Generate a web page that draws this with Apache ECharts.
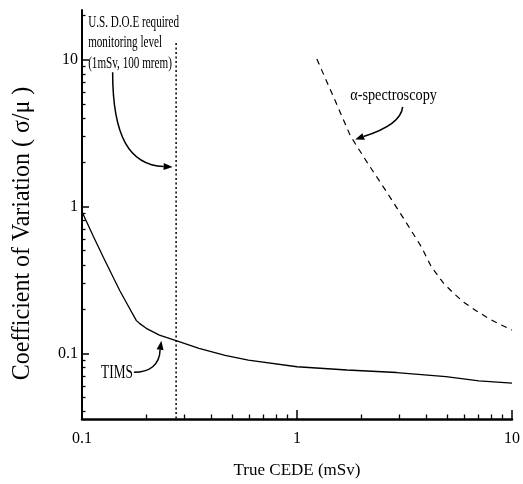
<!DOCTYPE html>
<html>
<head>
<meta charset="utf-8">
<script src="https://cdn.jsdelivr.net/npm/echarts@6/dist/echarts.min.js"></script>
<style>
  html, body { margin: 0; padding: 0; background: #fff; }
  #chart { width: 523px; height: 484px; }
</style>
</head>
<body>
<div id="chart"></div>
<script>
// Coefficient of variation vs. true CEDE, TIMS and alpha-spectroscopy.
const timsDose = [0.1, 0.113, 0.126, 0.14, 0.15, 0.161, 0.179, 0.185, 0.199, 0.229, 0.274, 0.35, 0.463, 0.594, 1.0, 1.71, 2.91, 4.93, 7.02, 10];
const timsCv   = [0.92, 0.625, 0.448, 0.327, 0.267, 0.221, 0.167, 0.16, 0.148, 0.133, 0.122, 0.108, 0.097, 0.09, 0.081, 0.077, 0.074, 0.0695, 0.065, 0.0626];

const alphaDose = [1.237, 1.476, 1.773, 2.161, 2.615, 3.164, 3.788, 4.211, 4.78, 5.31, 5.91, 6.78, 7.78, 8.84, 10];
const alphaCv   = [10.1, 5.61, 3.02, 1.912, 1.254, 0.81, 0.531, 0.389, 0.303, 0.259, 0.225, 0.196, 0.1727, 0.157, 0.144];

// Required monitoring level (vertical dotted line)
const doeLevel = 0.274;
const doeTop = 13;

// Axis ranges and ticks
const xRange = [0.1, 10];
const yRange = [0.0357, 21.8];
const xMajorTicks = [0.1, 1, 10];
const xTickLabels = ['0.1', '1', '10'];
const xMinorTicks = [0.2, 0.3, 0.4, 0.5, 0.6, 0.7, 0.8, 0.9, 2, 3, 4, 5, 6, 7, 8, 9];
const yMajorTicks = [0.1, 1, 10];
const yTickLabels = ['0.1', '1', '10'];
const yMinorTicks = [0.04, 0.05, 0.06, 0.07, 0.08, 0.09, 0.2, 0.3, 0.4, 0.5, 0.6, 0.7, 0.8, 0.9, 2, 3, 4, 5, 6, 7, 8, 9, 20];

// Texts
const xTitle = 'True CEDE (mSv)';
const yTitle = 'Coefficient of Variation ( σ/μ )';
const doeNote = ['U.S. D.O.E required', 'monitoring level', '(1mSv, 100 mrem)'];
const timsNote = 'TIMS';
const alphaNote = 'α-spectroscopy';

// Points the annotation arrows point at (data units)
const doeArrowTip = [0.264, 1.86];
const timsArrowTip = [0.234, 0.1216];
const alphaArrowTip = [1.864, 2.855];

const serif = '"Liberation Serif", "Times New Roman", serif';
const black = '#000';
const pairs = (xs, ys) => xs.map((x, i) => [x, ys[i]]);
const labelFor = (ticks, labels) => v => {
  let best = 0;
  ticks.forEach((t, i) => { if (Math.abs(Math.log10(t) - Math.log10(v)) < Math.abs(Math.log10(ticks[best]) - Math.log10(v))) best = i; });
  return labels[best];
};

const chart = echarts.init(document.getElementById('chart'), null, { renderer: 'canvas' });

chart.setOption({
  animation: false,
  backgroundColor: '#fff',
  grid: { left: 82, right: 6, top: 10, bottom: 63 },
  xAxis: [
    {
      type: 'log', logBase: 10, min: xRange[0], max: xRange[1],
      name: xTitle, nameLocation: 'middle', nameGap: 43,
      nameTextStyle: { fontFamily: serif, fontSize: 17, color: black },
      axisLine: { lineStyle: { color: black, width: 2.5 } },
      axisTick: { inside: true, length: 9, customValues: xMajorTicks, lineStyle: { color: black, width: 1.5 } },
      axisLabel: { customValues: xMajorTicks, margin: 12, fontFamily: serif, fontSize: 16, color: black,
                   formatter: labelFor(xMajorTicks, xTickLabels) },
      splitLine: { show: false }, minorTick: { show: false }
    },
    {
      type: 'log', logBase: 10, min: xRange[0], max: xRange[1], position: 'bottom',
      axisLine: { show: false },
      axisTick: { inside: true, length: 4.5, customValues: xMinorTicks, lineStyle: { color: black, width: 1.3 } },
      axisLabel: { show: false }, splitLine: { show: false }
    }
  ],
  yAxis: [
    {
      type: 'log', logBase: 10, min: yRange[0], max: yRange[1],
      axisLine: { lineStyle: { color: black, width: 2 } },
      axisTick: { inside: true, length: 7, customValues: yMajorTicks, lineStyle: { color: black, width: 1.5 } },
      axisLabel: { customValues: yMajorTicks, margin: 4, fontFamily: serif, fontSize: 16, color: black,
                   formatter: labelFor(yMajorTicks, yTickLabels) },
      splitLine: { show: false }
    },
    {
      type: 'log', logBase: 10, min: yRange[0], max: yRange[1], position: 'left',
      axisLine: { show: false },
      axisTick: { inside: true, length: 3.5, customValues: yMinorTicks, lineStyle: { color: black, width: 1.3 } },
      axisLabel: { show: false }, splitLine: { show: false }
    }
  ],
  series: [
    {
      name: 'TIMS', type: 'line', xAxisIndex: 0, yAxisIndex: 0,
      data: pairs(timsDose, timsCv), symbol: 'none', smooth: false,
      lineStyle: { color: black, width: 1.3 }
    },
    {
      name: 'α-spectroscopy', type: 'line', xAxisIndex: 0, yAxisIndex: 0,
      data: pairs(alphaDose, alphaCv), symbol: 'none', smooth: false,
      lineStyle: { color: black, width: 1.2, type: [6, 5] }
    },
    {
      name: 'monitoring level', type: 'line', xAxisIndex: 0, yAxisIndex: 0,
      data: [[doeLevel, doeTop], [doeLevel, yRange[0]]], symbol: 'none',
      lineStyle: { color: black, width: 1.5, type: [2, 2.5] }
    }
  ]
});

// Curved arrow: bezier from the note to just before the tip, plus a filled head.
function arrow(tip, p0, c1, c2, base) {
  const at = o => [tip[0] + o[0], tip[1] + o[1]];
  const a = at(p0), b = at(c1), c = at(c2), d = at(base);
  const dx = tip[0] - d[0], dy = tip[1] - d[1];
  const len = Math.hypot(dx, dy), ux = dx / len, uy = dy / len, half = 3.5;
  return [
    { type: 'bezierCurve', silent: true, z: 10,
      shape: { x1: a[0], y1: a[1], cpx1: b[0], cpy1: b[1], cpx2: c[0], cpy2: c[1], x2: d[0], y2: d[1] },
      style: { stroke: black, lineWidth: 1.5, fill: null } },
    { type: 'polygon', silent: true, z: 10,
      shape: { points: [tip, [d[0] - uy * half, d[1] + ux * half], [d[0] + uy * half, d[1] - ux * half]] },
      style: { fill: black } }
  ];
}

function note(x, y, text, size, scaleX, align) {
  return { type: 'text', x: x, y: y, scaleX: scaleX, silent: true, z: 10,
           style: { text: text, fontFamily: serif, fontSize: size, fill: black, align: align, verticalAlign: 'middle' } };
}

const px = v => chart.convertToPixel({ seriesIndex: 0 }, v);
const tDoe = px(doeArrowTip), tTims = px(timsArrowTip), tAlpha = px(alphaArrowTip);

chart.setOption({
  graphic: [
    { type: 'text', x: 22, y: 233.5, rotation: Math.PI / 2, scaleX: 0.94, silent: true,
      style: { text: yTitle, fontFamily: serif, fontSize: 25.5, fill: black, align: 'center', verticalAlign: 'middle' } },

    note(tDoe[0] - 84.5, tDoe[1] - 144.7, doeNote[0], 17, 0.655, 'left'),
    note(tDoe[0] - 84.5, tDoe[1] - 124.2, doeNote[1], 17, 0.655, 'left'),
    note(tDoe[0] - 84.5, tDoe[1] - 103.7, doeNote[2], 17, 0.655, 'left'),
    ...arrow(tDoe, [-60, -94.7], [-60, -30], [-43, -2], [-9, -0.4]),

    note(tTims[0] - 28.5, tTims[1] + 32.2, timsNote, 19, 0.7, 'right'),
    ...arrow(tTims, [-27.5, 31.5], [-12, 31.5], [-1.5, 24], [-1.3, 9]),

    note(tAlpha[0] - 5, tAlpha[1] - 44.3, alphaNote, 17, 0.84, 'left'),
    ...arrow(tAlpha, [47.5, -32.8], [46, -18], [27, -9], [8.5, -3.2])
  ]
});
</script>
</body>
</html>
